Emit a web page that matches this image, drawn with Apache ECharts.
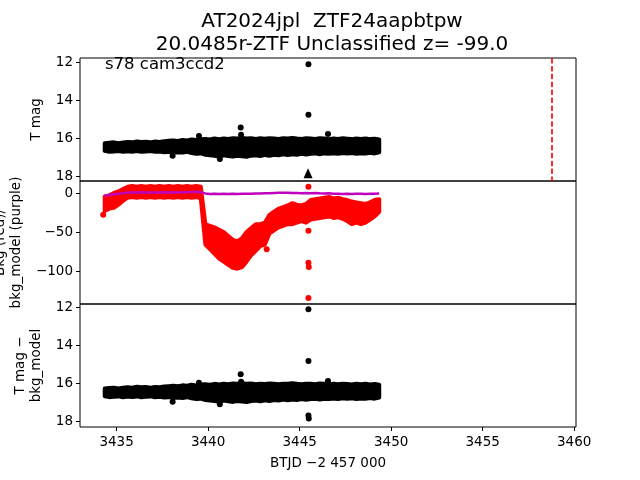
<!DOCTYPE html>
<html><head><meta charset="utf-8">
<script src="https://cdn.jsdelivr.net/npm/echarts@6/dist/echarts.min.js"></script>
<style>html,body{margin:0;padding:0;background:#fff}#c{width:640px;height:480px}</style>
</head><body><div id="c"></div><script>
// ---- data ----
const tGrid = [3434.35,3434.6,3434.85,3435.1,3435.35,3435.6,3435.85,3436.1,3436.35,3436.6,3436.85,3437.1,3437.35,3437.6,3437.85,3438.1,3438.35,3438.6,3438.85,3439.1,3439.35,3439.6,3439.85,3440.1,3440.35,3440.6,3440.85,3441.1,3441.35,3441.6,3441.85,3442.1,3442.35,3442.6,3442.85,3443.1,3443.35,3443.6,3443.85,3444.1,3444.35,3444.6,3444.85,3445.1,3445.35,3445.6,3445.85,3446.1,3446.35,3446.6,3446.85,3447.1,3447.35,3447.6,3447.85,3448.1,3448.35,3448.6,3448.85,3449.1,3449.35];
// T mag band (upper / lower envelope)
const tmagHi = [16.25,16.22,16.2,16.24,16.21,16.18,16.2,16.15,16.18,16.17,16.2,16.16,16.18,16.14,16.12,16.1,16.13,16.08,16.1,16.05,16.08,16.04,16.02,16.05,16.0,16.03,16.0,16.02,15.98,16.0,15.97,16.0,15.98,16.02,15.99,16.01,15.98,16.0,16.02,15.99,16.0,15.97,16.0,16.02,15.99,16.0,16.02,15.98,16.0,16.03,16.0,16.02,15.99,16.01,16.03,16.0,16.02,16.0,16.03,16.01,16.05];
const tmagLo = [16.65,16.7,16.68,16.66,16.7,16.67,16.69,16.66,16.7,16.68,16.66,16.7,16.68,16.72,16.7,16.75,16.72,16.74,16.7,16.76,16.8,16.78,16.85,16.88,16.9,16.95,16.88,16.92,16.95,16.9,16.93,16.96,16.9,16.88,16.92,16.86,16.9,16.85,16.88,16.83,16.86,16.82,16.85,16.8,16.84,16.8,16.78,16.82,16.78,16.8,16.77,16.8,16.76,16.79,16.76,16.8,16.77,16.78,16.75,16.78,16.72];
// background flux band (red) and model (purple)
const bkgHi = [-4.5,-3,0,2,5,8,9,8,9,8,9,8,9,8,9,8,9,8,9,8,9,8,-40,-42,-44,-47,-50,-55,-60,-62,-58,-50,-45,-40,-40,-38,-28,-24,-20,-18,-16,-13,-15,-16,-14,-9,-8,-7,-6,-5,-7,-6,-8,-9,-11,-12,-13,-14,-12,-9,-8];
const bkgLo = [-23,-20,-19,-15,-10,-6,-5,-6,-5,-6,-5,-6,-5,-6,-5,-6,-5,-6,-5,-6,-5,-7,-66,-72,-78,-84,-88,-92,-96,-97,-95,-88,-80,-74,-68,-66,-52,-48,-44,-42,-40,-40,-38,-36,-38,-34,-33,-32,-31,-30,-32,-31,-33,-36,-40,-38,-40,-38,-34,-30,-24];
const bkgModel = [-3.5,-2.5,-1.5,-0.8,0,0.5,0.8,0.6,0.9,0.7,0.5,0.8,0.6,0.9,0.7,1.0,0.8,1.1,0.9,1.3,1.5,1.0,-0.5,-1.2,-1.0,-1.4,-1.1,-1.3,-0.9,-1.2,-1.0,-0.8,-1.1,-0.7,-0.5,-0.3,-0.2,0.1,0.3,0.2,0.4,0.1,0.0,-0.2,0.1,-0.3,-0.1,-0.4,-0.6,-0.3,-0.8,-0.9,-1.2,-1.0,-1.3,-1.1,-0.9,-1.2,-1.0,-0.8,-0.6];
// T mag - bkg_model band
const diffHi = [16.28,16.25,16.23,16.27,16.24,16.21,16.23,16.18,16.21,16.2,16.23,16.19,16.21,16.17,16.15,16.13,16.16,16.11,16.13,16.08,16.11,16.07,16.05,16.08,16.03,16.06,16.03,16.05,16.01,16.03,16.0,16.03,16.01,16.05,16.02,16.04,16.01,16.03,16.05,16.02,16.03,16.0,16.03,16.05,16.02,16.03,16.05,16.01,16.03,16.06,16.03,16.05,16.02,16.04,16.06,16.03,16.05,16.03,16.06,16.04,16.08];
const diffLo = [16.68,16.73,16.71,16.69,16.73,16.7,16.72,16.69,16.73,16.71,16.69,16.73,16.71,16.75,16.73,16.78,16.75,16.77,16.73,16.79,16.83,16.81,16.88,16.91,16.93,16.98,16.91,16.95,16.98,16.93,16.96,16.99,16.93,16.91,16.95,16.89,16.93,16.88,16.91,16.86,16.89,16.85,16.88,16.83,16.87,16.83,16.81,16.85,16.81,16.83,16.8,16.83,16.79,16.82,16.79,16.83,16.8,16.81,16.78,16.81,16.75];
// individual points outside the bands
const tmagPoints = [[3445.48,12.1],[3445.48,14.75],[3441.78,15.42],[3441.8,15.8],[3439.5,15.87],[3446.55,15.76],[3438.06,16.9],[3440.64,17.07]];
const tmagTriangle = [[3445.46,17.82]];
const bkgPoints = [[3445.48,8],[3445.48,-48.5],[3445.48,-89.4],[3445.5,-95],[3445.48,-134.6],[3434.27,-28],[3443.2,-72]];
const diffPoints = [[3445.48,12.1],[3445.48,14.83],[3441.78,15.53],[3441.8,15.92],[3439.5,15.97],[3446.55,15.88],[3438.06,16.97],[3440.64,17.1],[3445.48,17.7],[3445.5,17.85]];
const xTicks = [3435,3440,3445,3450,3455,3460];
const magTicks = [12,14,16,18];
const bkgTicks = [0,-50,-100];
const markerTime = 3458.79;

// ---- chart ----
const FONT = 'DejaVu Sans';
const fmt = v => String(v).replace('-', '\u2212');
function bandSeries(idx, hi, lo, color){
  return {type:'custom', xAxisIndex:idx, yAxisIndex:idx, silent:true, clip:true,
    data:[[tGrid[0], hi[0]]],
    renderItem:function(params, api){
      const pts=[];
      for(let i=0;i<tGrid.length;i++) pts.push(api.coord([tGrid[i], hi[i]]));
      for(let i=tGrid.length-1;i>=0;i--) pts.push(api.coord([tGrid[i], lo[i]]));
      return {type:'polygon', shape:{points:pts}, style:{fill:color, stroke:color, lineWidth:4, lineJoin:'round'}};
    }};
}
function dots(idx, data, color, extra){
  return Object.assign({type:'scatter', xAxisIndex:idx, yAxisIndex:idx, data:data, symbolSize:6,
    itemStyle:{color:color, opacity:1}, silent:true}, extra || {});
}
const grids = [
  {left:80, right:64, top:58, height:123},
  {left:80, right:64, top:181, height:123},
  {left:80, right:64, top:304, height:123}
].map(g => Object.assign(g, {show:true, borderColor:'#000', borderWidth:1, backgroundColor:'transparent', containLabel:false, outerBoundsMode:'none'}));
function xAxis(i){
  const last = i===2;
  return {type:'value', gridIndex:i, min:3433.0, max:3460.1,
    axisLine:{show:false}, splitLine:{show:false},
    axisTick:{show:last, length:4, lineStyle:{color:'#000'}, customValues:xTicks},
    axisLabel:{show:last, color:'#000', fontFamily:FONT, fontSize:13.5, margin:8, customValues:xTicks, formatter:fmt},
    name: last ? 'BTJD \u22122 457 000' : '', nameLocation:'middle', nameGap:29,
    nameTextStyle:{color:'#000', fontFamily:FONT, fontSize:13.5}};
}
function yAxis(i, min, max, inv, ticks, name, gap){
  return {type:'value', gridIndex:i, min:min, max:max, inverse:inv,
    axisLine:{show:false}, splitLine:{show:false},
    axisTick:{show:true, length:4, lineStyle:{color:'#000'}, customValues:ticks},
    axisLabel:{color:'#000', fontFamily:FONT, fontSize:13.5, margin:7, customValues:ticks, formatter:fmt},
    name:name, nameLocation:'middle', nameGap:gap,
    nameTextStyle:{color:'#000', fontFamily:FONT, fontSize:13.5, lineHeight:16}};
}
const chart = echarts.init(document.getElementById('c'), null, {renderer:'canvas'});
chart.setOption({
  animation:false,
  backgroundColor:'#fff',
  title:{text:'AT2024jpl  ZTF24aapbtpw\n20.0485r-ZTF Unclassified z= -99.0', left:327, textAlign:'center', top:5,
    textStyle:{fontFamily:FONT, fontSize:20, fontWeight:'normal', color:'#000', lineHeight:23}},
  grid:grids,
  xAxis:[xAxis(0), xAxis(1), xAxis(2)],
  yAxis:[
    yAxis(0, 11.77, 18.23, true, magTicks, 'T mag', 34),
    yAxis(1, -142.3, 15.4, false, bkgTicks, 'Bkg (red)/\nbkg_model (purple)', 56),
    yAxis(2, 11.83, 18.3, true, magTicks, 'T mag \u2212\nbkg_model', 34)
  ],
  graphic:[{type:'text', left:105, top:56, style:{text:'s78 cam3ccd2', fontFamily:FONT, fontSize:16.5, fill:'#000'}}],
  series:[
    bandSeries(0, tmagHi, tmagLo, '#000'),
    dots(0, tmagPoints, '#000', {
      markLine:{silent:true, symbol:'none', label:{show:false}, lineStyle:{color:'#ff0000', width:1.6, type:[5.5,2.4]}, data:[{xAxis:markerTime}]}}),
    dots(0, tmagTriangle, '#000', {symbol:'triangle', symbolSize:[9,10]}),
    bandSeries(1, bkgHi, bkgLo, '#ff0000'),
    dots(1, bkgPoints, '#ff0000'),
    {type:'line', xAxisIndex:1, yAxisIndex:1, data:tGrid.map((t,i)=>[t,bkgModel[i]]), showSymbol:false, symbol:'none', lineStyle:{color:'#bf00bf', width:2.5}, silent:true},
    bandSeries(2, diffHi, diffLo, '#000'),
    dots(2, diffPoints, '#000')
  ]
});
</script></body></html>
